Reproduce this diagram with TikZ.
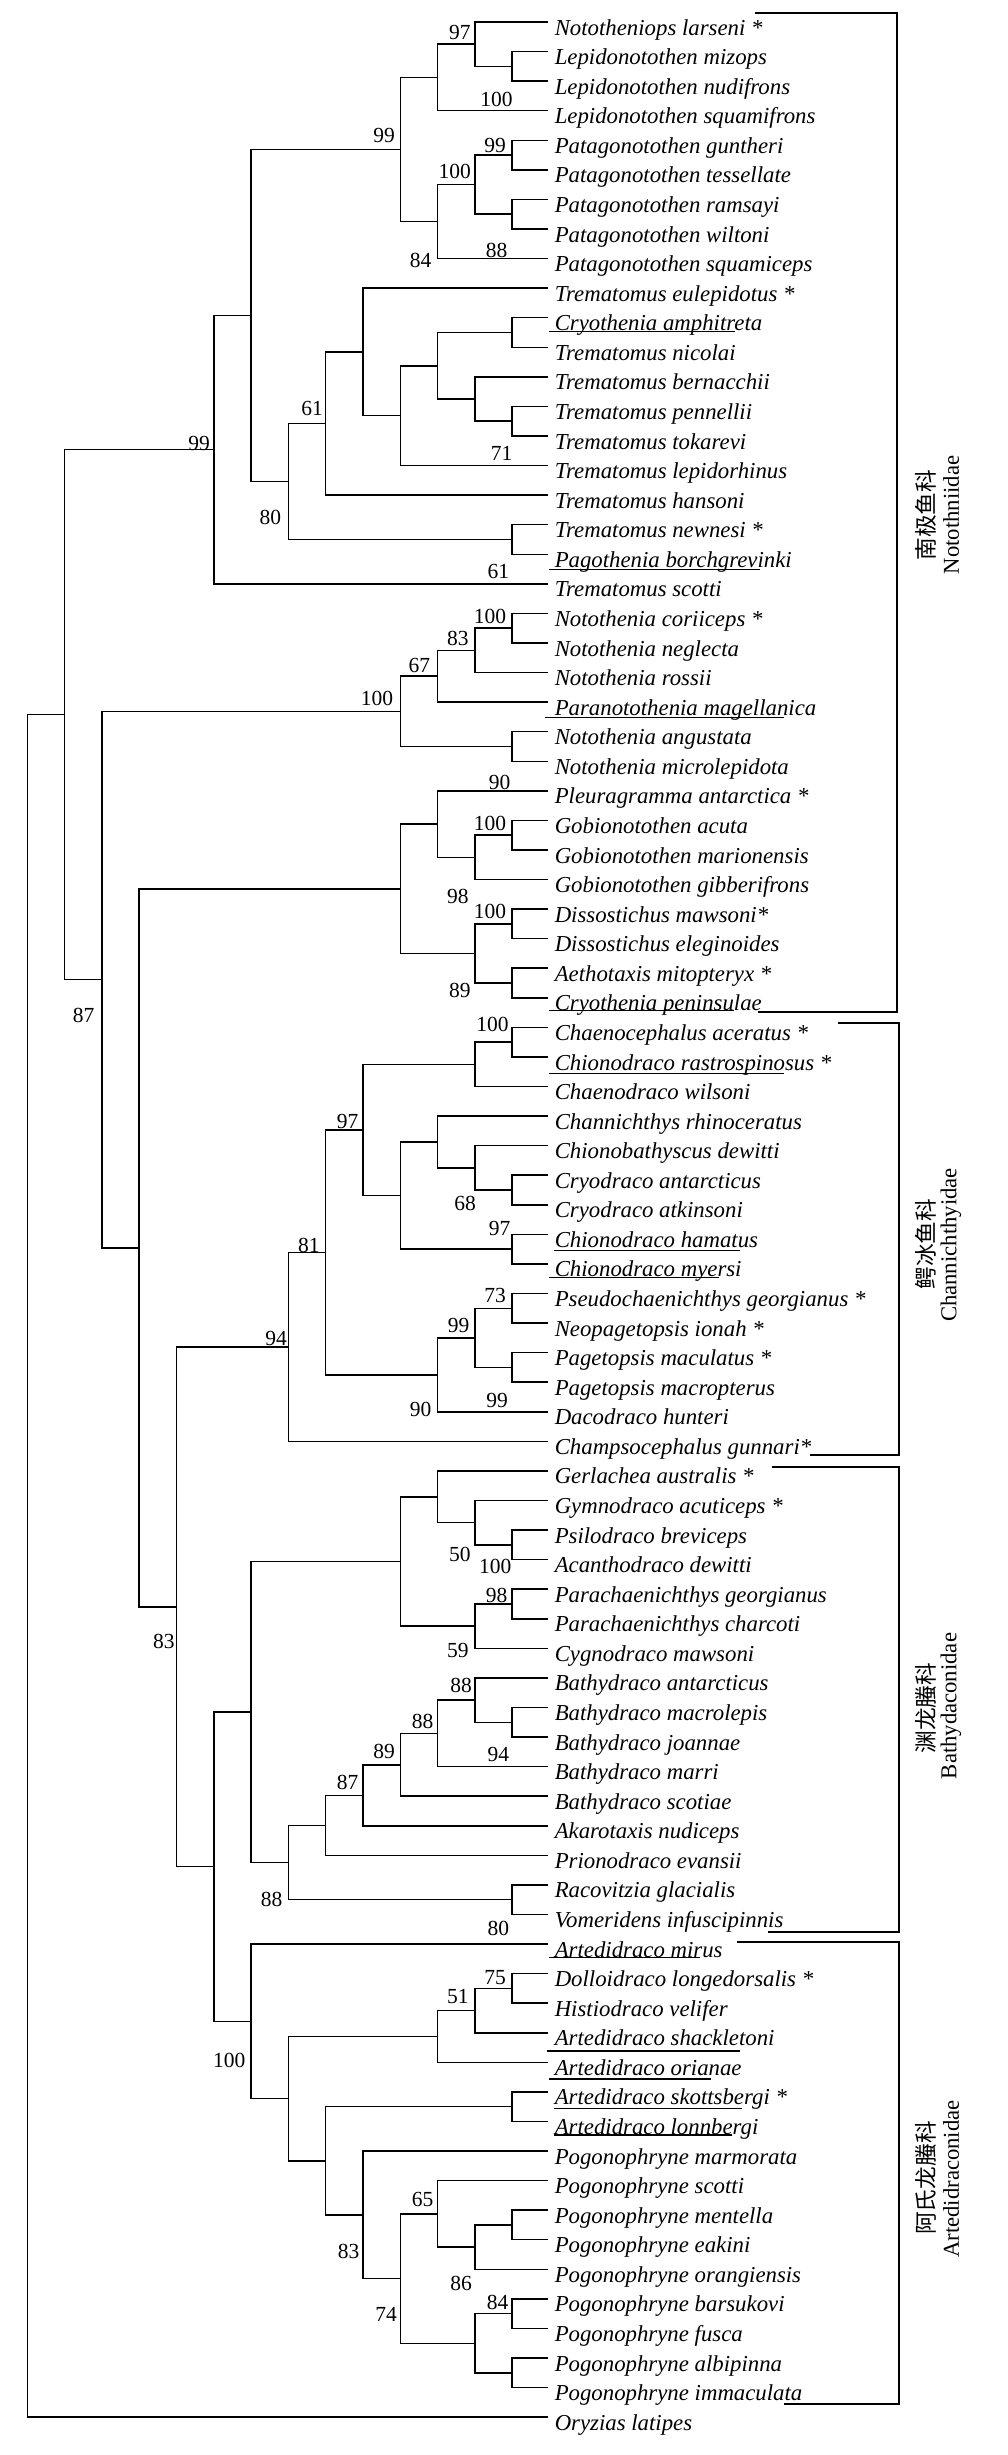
\documentclass[tikz,border=0pt]{standalone}
\usepackage{fontspec}
\setmainfont{Liberation Serif}
\newfontfamily\cjk{Noto Sans CJK SC}

\tikzset{
  sp/.style={anchor=base west, inner sep=0pt, font=\fontsize{22.8}{24}\selectfont\itshape},
  bs/.style={inner sep=0pt, font=\fontsize{21.5}{22}\selectfont},
  fam/.style={inner sep=0pt, rotate=90, font=\fontsize{22.7}{24}\selectfont},
  br/.style={line width=2pt},
  ul/.style={line width=1.4pt}
}

\begin{document}
\begin{tikzpicture}[x=1pt, y=-1pt, line width=1.5pt]
\useasboundingbox[fill=white] (0,0) rectangle (1007,2455);

% leaf ends and species names
\coordinate (s1) at (548,22.0);   \node[sp] (t1) at (554,35.0) {Nototheniops larseni *};
\coordinate (s2) at (548,51.6);   \node[sp] (t2) at (554,64.6) {Lepidonotothen mizops};
\coordinate (s3) at (548,81.1);   \node[sp] (t3) at (554,94.1) {Lepidonotothen nudifrons};
\coordinate (s4) at (548,110.7);  \node[sp] (t4) at (554,123.7) {Lepidonotothen squamifrons};
\coordinate (s5) at (548,140.3);  \node[sp] (t5) at (554,153.3) {Patagonotothen guntheri};
\coordinate (s6) at (548,169.9);  \node[sp] (t6) at (554,182.9) {Patagonotothen tessellate};
\coordinate (s7) at (548,199.4);  \node[sp] (t7) at (554,212.4) {Patagonotothen ramsayi};
\coordinate (s8) at (548,229.0);  \node[sp] (t8) at (554,242.0) {Patagonotothen wiltoni};
\coordinate (s9) at (548,258.6);  \node[sp] (t9) at (554,271.6) {Patagonotothen squamiceps};
\coordinate (s10) at (548,288.1); \node[sp] (t10) at (554,301.1) {Trematomus eulepidotus *};
\coordinate (s11) at (548,317.7); \node[sp] (t11) at (554,330.7) {Cryothenia amphitreta};
\coordinate (s12) at (548,347.3); \node[sp] (t12) at (554,360.3) {Trematomus nicolai};
\coordinate (s13) at (548,376.8); \node[sp] (t13) at (554,389.8) {Trematomus bernacchii};
\coordinate (s14) at (548,406.4); \node[sp] (t14) at (554,419.4) {Trematomus pennellii};
\coordinate (s15) at (548,436.0); \node[sp] (t15) at (554,449.0) {Trematomus tokarevi};
\coordinate (s16) at (548,465.6); \node[sp] (t16) at (554,478.6) {Trematomus lepidorhinus};
\coordinate (s17) at (548,495.1); \node[sp] (t17) at (554,508.1) {Trematomus hansoni};
\coordinate (s18) at (548,524.7); \node[sp] (t18) at (554,537.7) {Trematomus newnesi *};
\coordinate (s19) at (548,554.3); \node[sp] (t19) at (554,567.3) {Pagothenia borchgrevinki};
\coordinate (s20) at (548,583.8); \node[sp] (t20) at (554,596.8) {Trematomus scotti};
\coordinate (s21) at (548,613.4); \node[sp] (t21) at (554,626.4) {Notothenia coriiceps *};
\coordinate (s22) at (548,643.0); \node[sp] (t22) at (554,656.0) {Notothenia neglecta};
\coordinate (s23) at (548,672.5); \node[sp] (t23) at (554,685.5) {Notothenia rossii};
\coordinate (s24) at (548,702.1); \node[sp] (t24) at (554,715.1) {Paranotothenia magellanica};
\coordinate (s25) at (548,731.7); \node[sp] (t25) at (554,744.7) {Notothenia angustata};
\coordinate (s26) at (548,761.3); \node[sp] (t26) at (554,774.3) {Notothenia microlepidota};
\coordinate (s27) at (548,790.8); \node[sp] (t27) at (554,803.8) {Pleuragramma antarctica *};
\coordinate (s28) at (548,820.4); \node[sp] (t28) at (554,833.4) {Gobionotothen acuta};
\coordinate (s29) at (548,850.0); \node[sp] (t29) at (554,863.0) {Gobionotothen marionensis};
\coordinate (s30) at (548,879.5); \node[sp] (t30) at (554,892.5) {Gobionotothen gibberifrons};
\coordinate (s31) at (548,909.1); \node[sp] (t31) at (554,922.1) {Dissostichus mawsoni*};
\coordinate (s32) at (548,938.7); \node[sp] (t32) at (554,951.7) {Dissostichus eleginoides};
\coordinate (s33) at (548,968.2); \node[sp] (t33) at (554,981.2) {Aethotaxis mitopteryx *};
\coordinate (s34) at (548,997.8); \node[sp] (t34) at (554,1010.8) {Cryothenia peninsulae};
\coordinate (s35) at (548,1027.4); \node[sp] (t35) at (554,1040.4) {Chaenocephalus aceratus *};
\coordinate (s36) at (548,1057.0); \node[sp] (t36) at (554,1070.0) {Chionodraco rastrospinosus *};
\coordinate (s37) at (548,1086.5); \node[sp] (t37) at (554,1099.5) {Chaenodraco wilsoni};
\coordinate (s38) at (548,1116.1); \node[sp] (t38) at (554,1129.1) {Channichthys rhinoceratus};
\coordinate (s39) at (548,1145.7); \node[sp] (t39) at (554,1158.7) {Chionobathyscus dewitti};
\coordinate (s40) at (548,1175.2); \node[sp] (t40) at (554,1188.2) {Cryodraco antarcticus};
\coordinate (s41) at (548,1204.8); \node[sp] (t41) at (554,1217.8) {Cryodraco atkinsoni};
\coordinate (s42) at (548,1234.4); \node[sp] (t42) at (554,1247.4) {Chionodraco hamatus};
\coordinate (s43) at (548,1263.9); \node[sp] (t43) at (554,1276.9) {Chionodraco myersi};
\coordinate (s44) at (548,1293.5); \node[sp] (t44) at (554,1306.5) {Pseudochaenichthys georgianus *};
\coordinate (s45) at (548,1323.1); \node[sp] (t45) at (554,1336.1) {Neopagetopsis ionah *};
\coordinate (s46) at (548,1352.6); \node[sp] (t46) at (554,1365.6) {Pagetopsis maculatus *};
\coordinate (s47) at (548,1382.2); \node[sp] (t47) at (554,1395.2) {Pagetopsis macropterus};
\coordinate (s48) at (548,1411.8); \node[sp] (t48) at (554,1424.8) {Dacodraco hunteri};
\coordinate (s49) at (548,1441.4); \node[sp] (t49) at (554,1454.4) {Champsocephalus gunnari*};
\coordinate (s50) at (548,1470.9); \node[sp] (t50) at (554,1483.9) {Gerlachea australis *};
\coordinate (s51) at (548,1500.5); \node[sp] (t51) at (554,1513.5) {Gymnodraco acuticeps *};
\coordinate (s52) at (548,1530.1); \node[sp] (t52) at (554,1543.1) {Psilodraco breviceps};
\coordinate (s53) at (548,1559.6); \node[sp] (t53) at (554,1572.6) {Acanthodraco dewitti};
\coordinate (s54) at (548,1589.2); \node[sp] (t54) at (554,1602.2) {Parachaenichthys georgianus};
\coordinate (s55) at (548,1618.8); \node[sp] (t55) at (554,1631.8) {Parachaenichthys charcoti};
\coordinate (s56) at (548,1648.4); \node[sp] (t56) at (554,1661.4) {Cygnodraco mawsoni};
\coordinate (s57) at (548,1677.9); \node[sp] (t57) at (554,1690.9) {Bathydraco antarcticus};
\coordinate (s58) at (548,1707.5); \node[sp] (t58) at (554,1720.5) {Bathydraco macrolepis};
\coordinate (s59) at (548,1737.1); \node[sp] (t59) at (554,1750.1) {Bathydraco joannae};
\coordinate (s60) at (548,1766.6); \node[sp] (t60) at (554,1779.6) {Bathydraco marri};
\coordinate (s61) at (548,1796.2); \node[sp] (t61) at (554,1809.2) {Bathydraco scotiae};
\coordinate (s62) at (548,1825.8); \node[sp] (t62) at (554,1838.8) {Akarotaxis nudiceps};
\coordinate (s63) at (548,1855.3); \node[sp] (t63) at (554,1868.3) {Prionodraco evansii};
\coordinate (s64) at (548,1884.9); \node[sp] (t64) at (554,1897.9) {Racovitzia glacialis};
\coordinate (s65) at (548,1914.5); \node[sp] (t65) at (554,1927.5) {Vomeridens infuscipinnis};
\coordinate (s66) at (548,1944.0); \node[sp] (t66) at (554,1957.0) {Artedidraco mirus};
\coordinate (s67) at (548,1973.6); \node[sp] (t67) at (554,1986.6) {Dolloidraco longedorsalis *};
\coordinate (s68) at (548,2003.2); \node[sp] (t68) at (554,2016.2) {Histiodraco velifer};
\coordinate (s69) at (548,2032.8); \node[sp] (t69) at (554,2045.8) {Artedidraco shackletoni};
\coordinate (s70) at (548,2062.3); \node[sp] (t70) at (554,2075.3) {Artedidraco orianae};
\coordinate (s71) at (548,2091.9); \node[sp] (t71) at (554,2104.9) {Artedidraco skottsbergi *};
\coordinate (s72) at (548,2121.5); \node[sp] (t72) at (554,2134.5) {Artedidraco lonnbergi};
\coordinate (s73) at (548,2151.0); \node[sp] (t73) at (554,2164.0) {Pogonophryne marmorata};
\coordinate (s74) at (548,2180.6); \node[sp] (t74) at (554,2193.6) {Pogonophryne scotti};
\coordinate (s75) at (548,2210.2); \node[sp] (t75) at (554,2223.2) {Pogonophryne mentella};
\coordinate (s76) at (548,2239.7); \node[sp] (t76) at (554,2252.7) {Pogonophryne eakini};
\coordinate (s77) at (548,2269.3); \node[sp] (t77) at (554,2282.3) {Pogonophryne orangiensis};
\coordinate (s78) at (548,2298.9); \node[sp] (t78) at (554,2311.9) {Pogonophryne barsukovi};
\coordinate (s79) at (548,2328.5); \node[sp] (t79) at (554,2341.5) {Pogonophryne fusca};
\coordinate (s80) at (548,2358.0); \node[sp] (t80) at (554,2371.0) {Pogonophryne albipinna};
\coordinate (s81) at (548,2387.6); \node[sp] (t81) at (554,2400.6) {Pogonophryne immaculata};
\coordinate (s82) at (548,2417.2); \node[sp] (t82) at (554,2430.2) {Oryzias latipes};

% internal nodes
\coordinate (A1) at (512.2,66.35);
\coordinate (A2) at (474.9,44.2);
\coordinate (A3) at (437.6,77.45);
\coordinate (A4) at (512.2,155.1);
\coordinate (A5) at (512.2,214.2);
\coordinate (A6) at (474.9,184.65);
\coordinate (A7) at (437.6,221.6);
\coordinate (A8) at (400.3,149.5);
\coordinate (B1) at (512.2,332.5);
\coordinate (B2) at (512.2,421.2);
\coordinate (B3) at (474.9,399.0);
\coordinate (B4) at (437.6,365.75);
\coordinate (B5) at (400.3,415.7);
\coordinate (B6) at (363.0,351.9);
\coordinate (B7) at (325.7,423.5);
\coordinate (B8) at (512.2,539.5);
\coordinate (B9) at (288.4,481.5);
\coordinate (B10) at (251.1,315.5);
\coordinate (B11) at (213.8,449.65);
\coordinate (C1) at (512.2,628.2);
\coordinate (C2) at (474.9,650.35);
\coordinate (C3) at (437.6,676.2);
\coordinate (C4) at (512.2,746.5);
\coordinate (C5) at (400.3,711.35);
\coordinate (D1) at (512.2,835.2);
\coordinate (D2) at (474.9,857.35);
\coordinate (D3) at (437.6,824.1);
\coordinate (D4) at (512.2,923.9);
\coordinate (D5) at (512.2,983.0);
\coordinate (D6) at (474.9,953.45);
\coordinate (D7) at (400.3,888.8);
\coordinate (E1) at (512.2,1042.2);
\coordinate (E2) at (474.9,1064.35);
\coordinate (E3) at (512.2,1190.0);
\coordinate (E4) at (474.9,1167.85);
\coordinate (E5) at (437.6,1141.95);
\coordinate (E6) at (512.2,1249.15);
\coordinate (E7) at (400.3,1195.55);
\coordinate (E8) at (363.0,1129.95);
\coordinate (E9) at (512.2,1308.3);
\coordinate (E10) at (512.2,1367.4);
\coordinate (E11) at (474.9,1337.85);
\coordinate (E12) at (437.6,1374.8);
\coordinate (E13) at (325.7,1252.4);
\coordinate (E14) at (288.4,1346.9);
\coordinate (F1) at (512.2,1544.85);
\coordinate (F2) at (474.9,1522.7);
\coordinate (F3) at (437.6,1496.8);
\coordinate (F4) at (512.2,1604.0);
\coordinate (F5) at (474.9,1626.2);
\coordinate (F6) at (400.3,1561.5);
\coordinate (F7) at (512.2,1722.3);
\coordinate (F8) at (474.9,1700.1);
\coordinate (F9) at (437.6,1733.35);
\coordinate (F10) at (400.3,1764.8);
\coordinate (F11) at (363.0,1795.3);
\coordinate (F12) at (325.7,1825.3);
\coordinate (F13) at (512.2,1899.7);
\coordinate (F14) at (288.4,1862.5);
\coordinate (F15) at (251.1,1712.0);
\coordinate (G1) at (512.2,1988.4);
\coordinate (G2) at (474.9,2010.6);
\coordinate (G3) at (437.6,2036.45);
\coordinate (G4) at (512.2,2106.7);
\coordinate (G5) at (512.2,2224.95);
\coordinate (G6) at (474.9,2247.1);
\coordinate (G7) at (437.6,2213.85);
\coordinate (G8) at (512.2,2313.7);
\coordinate (G9) at (512.2,2372.8);
\coordinate (G10) at (474.9,2343.25);
\coordinate (G11) at (400.3,2278.55);
\coordinate (G12) at (363.0,2214.8);
\coordinate (G13) at (325.7,2160.75);
\coordinate (G14) at (288.4,2098.6);
\coordinate (G15) at (251.1,2021.3);
\coordinate (H1) at (213.8,1866.65);
\coordinate (H2) at (176.5,1606.8);
\coordinate (H3) at (139.2,1247.8);
\coordinate (H4) at (101.9,979.6);
\coordinate (H5) at (64.6,714.6);
\coordinate (R) at (27.3,1565.9);

% branches
\draw (s2) -| (A1) |- (s3);
\draw (s1) -| (A2) |- (A1);
\draw (A2) -| (A3) |- (s4);
\draw (s5) -| (A4) |- (s6);
\draw (s7) -| (A5) |- (s8);
\draw (A4) -| (A6) |- (A5);
\draw (A6) -| (A7) |- (s9);
\draw (A3) -| (A8) |- (A7);
\draw (s11) -| (B1) |- (s12);
\draw (s14) -| (B2) |- (s15);
\draw (s13) -| (B3) |- (B2);
\draw (B1) -| (B4) |- (B3);
\draw (B4) -| (B5) |- (s16);
\draw (s10) -| (B6) |- (B5);
\draw (B6) -| (B7) |- (s17);
\draw (s18) -| (B8) |- (s19);
\draw (B7) -| (B9) |- (B8);
\draw (A8) -| (B10) |- (B9);
\draw (B10) -| (B11) |- (s20);
\draw (s21) -| (C1) |- (s22);
\draw (C1) -| (C2) |- (s23);
\draw (C2) -| (C3) |- (s24);
\draw (s25) -| (C4) |- (s26);
\draw (C3) -| (C5) |- (C4);
\draw (s28) -| (D1) |- (s29);
\draw (D1) -| (D2) |- (s30);
\draw (s27) -| (D3) |- (D2);
\draw (s31) -| (D4) |- (s32);
\draw (s33) -| (D5) |- (s34);
\draw (D4) -| (D6) |- (D5);
\draw (D3) -| (D7) |- (D6);
\draw (s35) -| (E1) |- (s36);
\draw (E1) -| (E2) |- (s37);
\draw (s40) -| (E3) |- (s41);
\draw (s39) -| (E4) |- (E3);
\draw (s38) -| (E5) |- (E4);
\draw (s42) -| (E6) |- (s43);
\draw (E5) -| (E7) |- (E6);
\draw (E2) -| (E8) |- (E7);
\draw (s44) -| (E9) |- (s45);
\draw (s46) -| (E10) |- (s47);
\draw (E9) -| (E11) |- (E10);
\draw (E11) -| (E12) |- (s48);
\draw (E8) -| (E13) |- (E12);
\draw (E13) -| (E14) |- (s49);
\draw (s52) -| (F1) |- (s53);
\draw (s51) -| (F2) |- (F1);
\draw (s50) -| (F3) |- (F2);
\draw (s54) -| (F4) |- (s55);
\draw (F4) -| (F5) |- (s56);
\draw (F3) -| (F6) |- (F5);
\draw (s58) -| (F7) |- (s59);
\draw (s57) -| (F8) |- (F7);
\draw (F8) -| (F9) |- (s60);
\draw (F9) -| (F10) |- (s61);
\draw (F10) -| (F11) |- (s62);
\draw (F11) -| (F12) |- (s63);
\draw (s64) -| (F13) |- (s65);
\draw (F12) -| (F14) |- (F13);
\draw (F6) -| (F15) |- (F14);
\draw (s67) -| (G1) |- (s68);
\draw (G1) -| (G2) |- (s69);
\draw (G2) -| (G3) |- (s70);
\draw (s71) -| (G4) |- (s72);
\draw (s75) -| (G5) |- (s76);
\draw (G5) -| (G6) |- (s77);
\draw (s74) -| (G7) |- (G6);
\draw (s78) -| (G8) |- (s79);
\draw (s80) -| (G9) |- (s81);
\draw (G8) -| (G10) |- (G9);
\draw (G7) -| (G11) |- (G10);
\draw (s73) -| (G12) |- (G11);
\draw (G4) -| (G13) |- (G12);
\draw (G3) -| (G14) |- (G13);
\draw (s66) -| (G15) |- (G14);
\draw (F15) -| (H1) |- (G15);
\draw (E14) -| (H2) |- (H1);
\draw (D7) -| (H3) |- (H2);
\draw (C5) -| (H4) |- (H3);
\draw (B11) -| (H5) |- (H4);
\draw (H5) -| (R) |- (s82);

% support values
\node[bs] (b1) at (459.9,32.3) {97};
\node[bs] (b2) at (496.5,99) {100};
\node[bs] (b3) at (384,135) {99};
\node[bs] (b4) at (495.2,145) {99};
\node[bs] (b5) at (454.7,171.7) {100};
\node[bs] (b6) at (420.7,260) {84};
\node[bs] (b7) at (496.5,250) {88};
\node[bs] (b8) at (312.1,408.3) {61};
\node[bs] (b9) at (199.1,443.3) {99};
\node[bs] (b10) at (501.6,453.3) {71};
\node[bs] (b11) at (270.4,517.7) {80};
\node[bs] (b12) at (498.4,571) {61};
\node[bs] (b13) at (490,616.7) {100};
\node[bs] (b14) at (457.9,638.3) {83};
\node[bs] (b15) at (419.4,665.7) {67};
\node[bs] (b16) at (377,698.3) {100};
\node[bs] (b17) at (499.7,782.3) {90};
\node[bs] (b18) at (490,823.3) {100};
\node[bs] (b19) at (457.9,896.7) {98};
\node[bs] (b20) at (490,911.7) {100};
\node[bs] (b21) at (459.9,990) {89};
\node[bs] (b22) at (83.5,1015) {87};
\node[bs] (b23) at (492.6,1024.3) {100};
\node[bs] (b24) at (347.5,1121.7) {97};
\node[bs] (b25) at (465,1203.3) {68};
\node[bs] (b26) at (499.7,1228.3) {97};
\node[bs] (b27) at (308.9,1245) {81};
\node[bs] (b28) at (495.2,1295) {73};
\node[bs] (b29) at (458.6,1325) {99};
\node[bs] (b30) at (276.2,1338.3) {94};
\node[bs] (b31) at (420.7,1409.3) {90};
\node[bs] (b32) at (497.1,1400) {99};
\node[bs] (b33) at (459.9,1554) {50};
\node[bs] (b34) at (495.2,1566.7) {100};
\node[bs] (b35) at (496.5,1595) {98};
\node[bs] (b36) at (163.8,1641.7) {83};
\node[bs] (b37) at (457.9,1650.7) {59};
\node[bs] (b38) at (461.1,1685) {88};
\node[bs] (b39) at (422.6,1721.7) {88};
\node[bs] (b40) at (384.1,1751.7) {89};
\node[bs] (b41) at (498.4,1754) {94};
\node[bs] (b42) at (347.5,1782.3) {87};
\node[bs] (b43) at (271.7,1899) {88};
\node[bs] (b44) at (498.4,1928.3) {80};
\node[bs] (b45) at (495.2,1977.3) {75};
\node[bs] (b46) at (457.9,1996.7) {51};
\node[bs] (b47) at (229.3,2060.7) {100};
\node[bs] (b48) at (422.6,2199.3) {65};
\node[bs] (b49) at (348.7,2251) {83};
\node[bs] (b50) at (461.1,2283.3) {86};
\node[bs] (b51) at (497.7,2302.3) {84};
\node[bs] (b52) at (386,2314) {74};

% underlined species
\draw[ul] (549,331.7) -- (735,331.7);
\draw[ul] (549,569.3) -- (760,569.3);
\draw[ul] (545,717.3) -- (784,717.3);
\draw[ul] (549,1010.7) -- (734,1010.7);
\draw[ul] (549,1073.3) -- (784,1073.3);
\draw[ul] (554,1250.7) -- (740,1250.7);
\draw[ul] (549,1277.7) -- (719,1277.7);
\draw[ul] (549,1957.3) -- (700,1957.3);
\draw[ul] (547,2051) -- (740,2051);
\draw[ul] (549,2079) -- (711,2079);
\draw[ul] (554,2108.3) -- (742,2108.3);
\draw[ul] (554,2135) -- (732,2135);

% family brackets
\draw[br] (755,13.3) -| (897.3,1012) -- (757.9,1012);
\draw[br] (838,1023.3) -| (899.3,1455) -- (810,1455);
\draw[br] (771.7,1466.7) -| (898.5,1931.7) -- (767.5,1931.7);
\draw[br] (737.3,1942.3) -| (899.3,2404.3) -- (783.6,2404.3);

% family names
\node[fam] (c1) at (926,515) {\cjk 南极鱼科};
\node[fam] (f1) at (951,515) {Notothniidae};
\node[fam] (c2) at (926,1244) {\cjk 鳄冰鱼科};
\node[fam] (f2) at (951,1245) {Channichthyidae};
\node[fam] (c3) at (926,1708) {\cjk 渊龙螣科};
\node[fam] (f3) at (951,1706) {Bathydaconidae};
\node[fam] (c4) at (926,2178) {\cjk 阿氏龙螣科};
\node[fam] (f4) at (951,2179) {Artedidraconidae};
\end{tikzpicture}
\end{document}
